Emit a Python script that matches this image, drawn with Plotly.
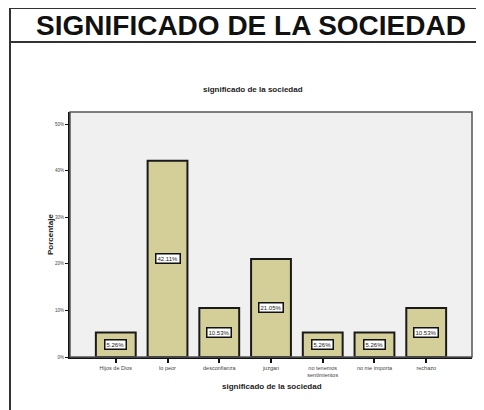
import plotly.graph_objects as go

categories = ["Hijos de Dios", "lo peor", "desconfianza", "juzgan",
              "no tenemos<br>sentimientos", "no me importa", "rechazo"]
percent = [5.26, 42.11, 10.53, 21.05, 5.26, 5.26, 10.53]
y_ticks = [0, 10, 20, 30, 40, 50]
y_tick_labels = ["0%", "10%", "20%", "30%", "40%", "50%"]

BAR_COLOR = "#D4CF98"
FONT = "Liberation Sans, Arial, sans-serif"

# the page body has an 8px margin, so the figure is drawn 8px in and smaller
OFF = 8
W, H = 484 - OFF, 410 - OFF
L, R, T, B = 70 - OFF, 12, 112 - OFF, 53


def px_x(v):
    return (v - OFF - L) / (W - L - R)


def px_y(v):
    return (H - B - (v - OFF)) / (H - T - B)


fig = go.Figure(go.Bar(
    x=list(range(len(categories))),
    y=percent,
    width=0.77,
    marker=dict(color=BAR_COLOR, line=dict(color="#1a1a1a", width=2)),
    hoverinfo="skip",
))

# white boxed labels at mid-height of each bar
for i, v in enumerate(percent):
    fig.add_annotation(
        x=i, y=v / 2, text=f"{v:.2f}%", showarrow=False,
        font=dict(family=FONT, size=6, color="#222"),
        bgcolor="white", bordercolor="#111", borderwidth=1.5, borderpad=1,
    )

fig.add_annotation(
    x=px_x(253), y=px_y(83), xref="paper", yref="paper", showarrow=False,
    text="<b>significado de la sociedad</b>",
    font=dict(family=FONT, size=8, color="#222"),
)
fig.add_annotation(
    x=px_x(44), y=0.5, xref="paper", yref="paper", showarrow=False,
    text="<b>Porcentaje</b>", textangle=-90,
    font=dict(family=FONT, size=8, color="#222"),
)
fig.add_annotation(
    x=px_x(272), y=px_y(393), xref="paper", yref="paper", showarrow=False,
    text="<b>significado de la sociedad</b>",
    font=dict(family=FONT, size=8, color="#222"),
)

# outer frame and title band
frame = dict(color="#333", width=2)
fig.add_shape(type="line", xref="paper", yref="paper",
              x0=px_x(10), x1=px_x(490), y0=px_y(8), y1=px_y(8), line=frame)
fig.add_shape(type="line", xref="paper", yref="paper",
              x0=px_x(10), x1=px_x(490), y0=px_y(42), y1=px_y(42), line=frame)
fig.add_shape(type="line", xref="paper", yref="paper",
              x0=px_x(10), x1=px_x(10), y0=px_y(8), y1=px_y(420), line=frame)
# plot area border
fig.add_shape(type="rect", xref="paper", yref="paper", x0=0, x1=1, y0=0, y1=1,
              line=dict(color="#555", width=1.5), layer="above")

fig.update_layout(
    width=W, height=H,
    margin=dict(l=L, r=R, t=T, b=B),
    paper_bgcolor="white",
    plot_bgcolor="#F0F0F0",
    showlegend=False,
    font=dict(family=FONT, color="#222"),
    title=dict(
        text="<b>SIGNIFICADO DE LA SOCIEDAD</b>",
        x=(251 - OFF) / W, xanchor="center", y=1 - (25 - OFF) / H, yanchor="middle",
        font=dict(family=FONT, size=28, color="#111"),
    ),
    xaxis=dict(
        range=[-0.885, 6.885],
        tickmode="array", tickvals=list(range(len(categories))), ticktext=categories,
        tickfont=dict(size=5.5, color="#444"),
        ticks="outside", ticklen=4, tickwidth=1.5, tickcolor="#111",
        showline=True, linecolor="#111", linewidth=2,
        showgrid=False, zeroline=False,
    ),
    yaxis=dict(
        range=[0, 52.6],
        tickmode="array", tickvals=y_ticks, ticktext=y_tick_labels,
        tickfont=dict(size=4.5, color="#444"),
        ticks="outside", ticklen=3, tickwidth=1.2, tickcolor="#111",
        showline=True, linecolor="#111", linewidth=2,
        showgrid=False, zeroline=False,
    ),
)

fig.write_html("out.html")
